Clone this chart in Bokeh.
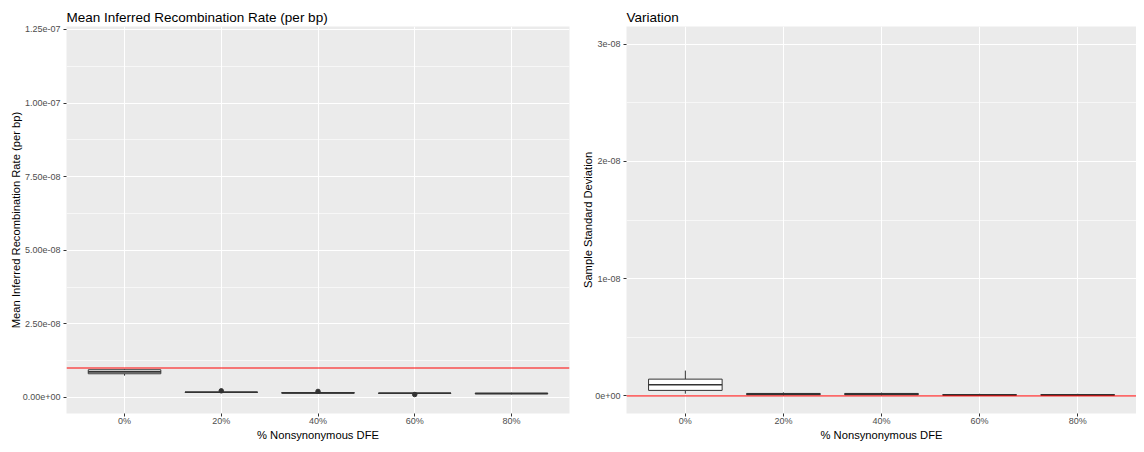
from bokeh.plotting import figure
from bokeh.models import Range1d, FactorRange, FixedTicker, CustomJSTickFormatter, Span, ColumnDataSource
from bokeh.transform import dodge
from bokeh.layouts import row
from bokeh.embed import file_html
from bokeh.resources import INLINE

categories = ["0%", "20%", "40%", "60%", "80%"]

# Panel 1: mean inferred recombination rate (per bp)
rate_lower = [7.4e-9, 1.60e-9, 1.30e-9, 1.25e-9, 1.05e-9]
rate_q1 = [8.05e-9, 1.72e-9, 1.45e-9, 1.38e-9, 1.22e-9]
rate_median = [8.7e-9, 1.78e-9, 1.57e-9, 1.44e-9, 1.34e-9]
rate_q3 = [9.4e-9, 1.84e-9, 1.68e-9, 1.50e-9, 1.45e-9]
rate_upper = [9.7e-9, 1.95e-9, 1.85e-9, 1.60e-9, 1.60e-9]
rate_out_cat = ["20%", "40%", "60%"]
rate_out_val = [2.25e-9, 2.05e-9, 1.0e-9]
true_rate = 1.0e-8
rate_ticks = [0.0, 2.5e-8, 5.0e-8, 7.5e-8, 1.0e-7, 1.25e-7]

# Panel 2: sample standard deviation
sd_lower = [1.9e-10, 0.5e-10, 0.5e-10, 0.2e-10, 0.2e-10]
sd_q1 = [4.7e-10, 1.0e-10, 1.0e-10, 0.5e-10, 0.5e-10]
sd_median = [9.5e-10, 1.5e-10, 1.5e-10, 0.8e-10, 0.8e-10]
sd_q3 = [1.43e-9, 2.1e-10, 2.1e-10, 1.2e-10, 1.2e-10]
sd_upper = [2.16e-9, 3.0e-10, 2.8e-10, 1.8e-10, 1.8e-10]
sd_out_cat = []
sd_out_val = []
sd_ref = 0.0
sd_ticks = [0.0, 1.0e-8, 2.0e-8, 3.0e-8]

FONT = "Liberation Sans"
FMT = """
const s = tick.toExponential(d);
const i = s.indexOf('e');
const m = s.slice(0, i);
let e = s.slice(i + 1);
const sign = e[0];
e = e.slice(1);
if (e.length < 2) { e = '0' + e; }
return m + 'e' + sign + e;
"""


def panel(title, ylabel, width, border_left, border_right, yr, ticks, digits,
          lower, q1, med, q3, upper, out_cat, out_val, ref):
    p = figure(width=width, height=444, x_range=FactorRange(factors=categories, range_padding=0.04),
               y_range=Range1d(*yr), output_backend="svg", toolbar_location=None,
               title=title, min_border_left=border_left, min_border_right=border_right,
               min_border_top=26, min_border_bottom=31)
    p.background_fill_color = "#EBEBEB"
    p.border_fill_color = "white"
    p.outline_line_color = None

    p.title.text_font = FONT
    p.title.text_font_size = "13.5px"
    p.title.text_font_style = "normal"
    p.title.text_color = "black"
    p.title.standoff = 4
    p.title.offset = 0

    minor = [(a + b) / 2 for a, b in zip(ticks[:-1], ticks[1:])]
    p.yaxis.ticker = FixedTicker(ticks=ticks, minor_ticks=minor)
    p.yaxis.formatter = CustomJSTickFormatter(args=dict(d=digits), code=FMT)

    for ax in (p.xaxis, p.yaxis):
        ax.axis_line_color = None
        ax.major_tick_line_color = "#333333"
        ax.major_tick_in = 0
        ax.major_tick_out = 3
        ax.minor_tick_line_color = None
        ax.major_label_text_font = FONT
        ax.major_label_text_font_size = "9px"
        ax.major_label_text_color = "#4D4D4D"
        ax.major_label_standoff = 2
        ax.axis_label_text_font = FONT
        ax.axis_label_text_font_size = "11.2px"
        ax.axis_label_text_font_style = "normal"
        ax.axis_label_text_color = "black"
    p.xaxis.major_label_standoff = -1
    p.xaxis.axis_label_standoff = 0
    p.yaxis.axis_label_standoff = -2
    p.xaxis.axis_label = "% Nonsynonymous DFE"
    p.yaxis.axis_label = ylabel

    p.xgrid.grid_line_color = "white"
    p.xgrid.grid_line_width = 1
    p.ygrid.grid_line_color = "white"
    p.ygrid.grid_line_width = 1
    p.ygrid.minor_grid_line_color = "white"
    p.ygrid.minor_grid_line_width = 0.6

    src = ColumnDataSource(dict(cat=categories, lower=lower, q1=q1, med=med, q3=q3, upper=upper))
    p.segment(x0="cat", y0="q3", x1="cat", y1="upper", source=src, line_color="#333333", line_width=1)
    p.segment(x0="cat", y0="q1", x1="cat", y1="lower", source=src, line_color="#333333", line_width=1)
    p.vbar(x="cat", top="q3", bottom="q1", width=0.75, source=src,
           fill_color="white", line_color="#333333", line_width=1)
    p.segment(x0=dodge("cat", -0.375, range=p.x_range), y0="med",
              x1=dodge("cat", 0.375, range=p.x_range), y1="med",
              source=src, line_color="#333333", line_width=1.6)
    if out_cat:
        p.scatter(x=out_cat, y=out_val, size=4.5, fill_color="#333333", line_color="#333333")

    p.add_layout(Span(location=ref, dimension="width", line_color="#FF0000", line_width=1))
    return p


p1 = panel("Mean Inferred Recombination Rate (per bp)", "Mean Inferred Recombination Rate (per bp)",
           574, 66, 5, (-5.45e-9, 1.26e-7), rate_ticks, 2,
           rate_lower, rate_q1, rate_median, rate_q3, rate_upper, rate_out_cat, rate_out_val, true_rate)
p2 = panel("Variation", "Sample Standard Deviation",
           562, 52, 0, (-1.5e-9, 3.15e-8), sd_ticks, 0,
           sd_lower, sd_q1, sd_median, sd_q3, sd_upper, sd_out_cat, sd_out_val, sd_ref)

layout = row(p1, p2)
open("out.html", "w").write(file_html(layout, INLINE))
